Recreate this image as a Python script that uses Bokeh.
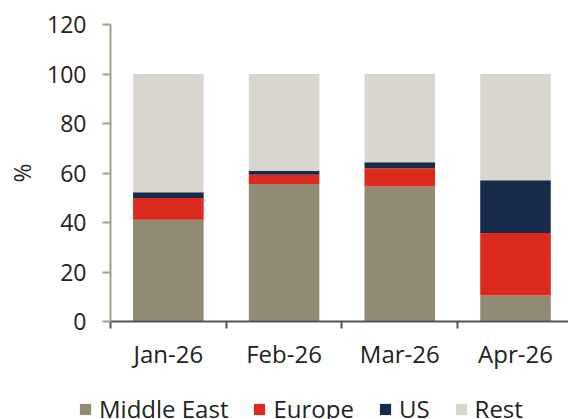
from bokeh.plotting import figure
from bokeh.layouts import column
from bokeh.models import ColumnDataSource, Range1d, FixedTicker, Legend, LegendItem
from bokeh.embed import file_html
from bokeh.resources import INLINE

months = ["Jan-26", "Feb-26", "Mar-26", "Apr-26"]
middle_east = [41.1, 55.6, 54.5, 10.5]
europe = [8.8, 3.7, 7.4, 25.3]
us = [2.3, 1.5, 2.4, 21.3]
rest = [47.8, 39.2, 35.7, 42.9]
series = ["Middle East", "Europe", "US", "Rest"]
colors = ["#918b74", "#dc2a1f", "#172b4a", "#d9d6cf"]
y_ticks = [0, 20, 40, 60, 80, 100, 120]

FONT = "Open Sans"
TEXT = "#222222"

xs = [i + 0.5 for i in range(len(months))]
source = ColumnDataSource(dict(x=xs, **{
    "Middle East": middle_east, "Europe": europe, "US": us, "Rest": rest}))

TOP = 24
H1 = TOP + 298 + 50
p = figure(width=568, height=H1, output_backend="svg", toolbar_location=None,
           x_range=Range1d(0, 3.958), y_range=Range1d(0, 120),
           min_border_left=110, min_border_right=0, min_border_top=TOP,
           min_border_bottom=50)
p.frame_align = False
p.outline_line_color = None
p.xgrid.grid_line_color = None
p.ygrid.grid_line_color = None

p.vbar_stack(series, x="x", width=0.61, source=source,
             color=colors, line_color=None)

# x axis
xa = p.xaxis[0]
xa.ticker = FixedTicker(ticks=xs, minor_ticks=list(range(len(months) + 1)))
xa.major_label_overrides = {x: m for x, m in zip(xs, months)}
xa.major_tick_out = 0
xa.major_tick_in = 0
xa.minor_tick_out = 7
xa.minor_tick_in = 0
xa.minor_tick_line_color = "#555555"
xa.minor_tick_line_width = 2
xa.axis_line_color = "#555555"
xa.axis_line_width = 2
xa.major_label_text_font = FONT
xa.major_label_text_font_size = "24px"
xa.major_label_text_color = TEXT
xa.major_label_standoff = 8

# y axis
ya = p.yaxis[0]
ya.ticker = FixedTicker(ticks=y_ticks)
ya.minor_tick_line_color = None
ya.major_tick_out = 8
ya.major_tick_in = 0
ya.major_tick_line_color = "#a39e8a"
ya.major_tick_line_width = 2
ya.axis_line_color = "#a39e8a"
ya.axis_line_width = 2
ya.major_label_text_font = FONT
ya.major_label_text_font_size = "23px"
ya.major_label_text_color = TEXT
ya.major_label_standoff = 16
ya.axis_label = "%"
ya.axis_label_text_font = FONT
ya.axis_label_text_font_size = "23px"
ya.axis_label_text_font_style = "normal"
ya.axis_label_text_color = TEXT
ya.axis_label_standoff = 6

# legend in a separate strip below the chart
H2 = 47
lg = figure(width=568, height=H2, output_backend="svg", toolbar_location=None,
            x_range=Range1d(0, 3.958), y_range=Range1d(101, 102),
            min_border_left=0, min_border_right=0, min_border_top=0,
            min_border_bottom=0, x_axis_location=None, y_axis_location=None)
lg.frame_align = False
lg.outline_line_color = None
lg.xgrid.grid_line_color = None
lg.ygrid.grid_line_color = None
# same stacked bars, below the visible range: used only as legend swatches
swatches = lg.vbar_stack(series, x="x", width=0.61, source=source,
                         color=colors, line_color=None)
items = [LegendItem(label=s, renderers=[r]) for s, r in zip(series, swatches)]
legend = Legend(items=items, orientation="horizontal", location=(78, -6),
                glyph_width=14, glyph_height=14, label_standoff=7, spacing=24,
                padding=0, margin=0, border_line_color=None,
                background_fill_alpha=0,
                label_text_font=FONT, label_text_font_size="24px",
                label_text_color=TEXT)
lg.add_layout(legend, "center")

layout = column(p, lg)
open("out.html", "w").write(file_html(layout, INLINE))
